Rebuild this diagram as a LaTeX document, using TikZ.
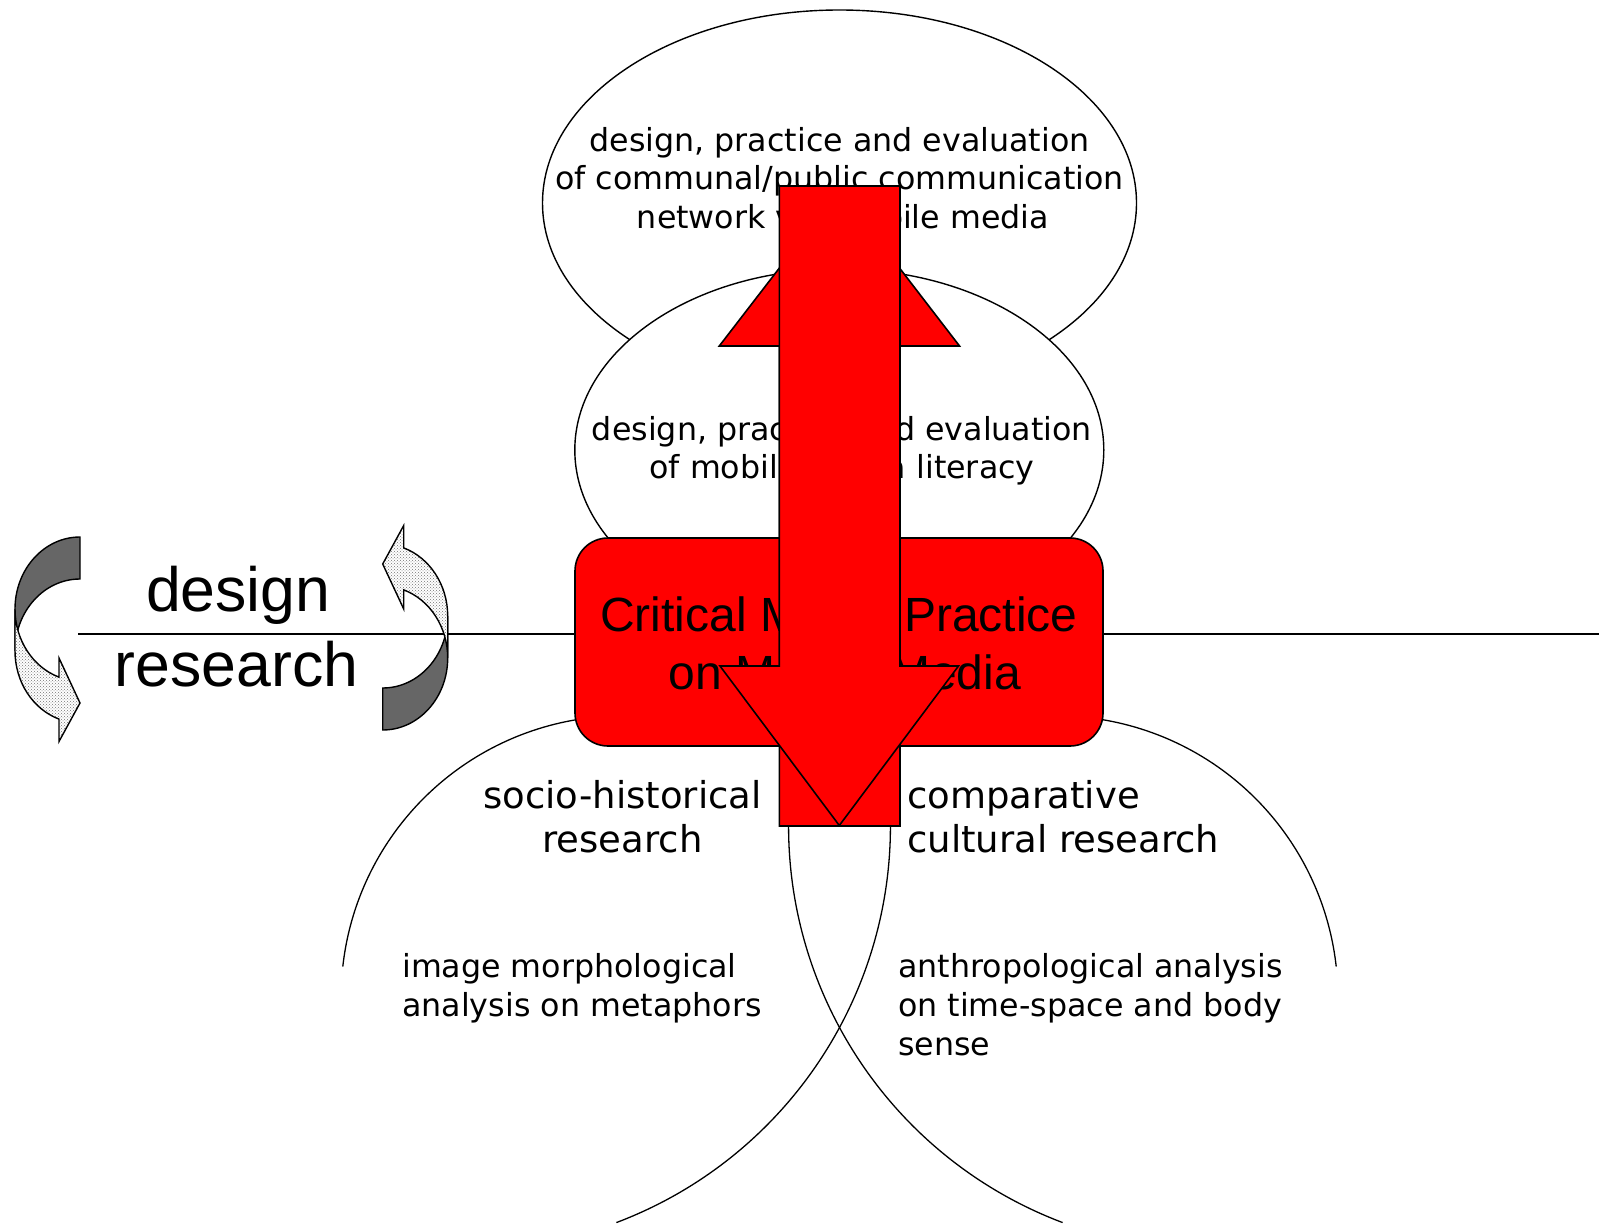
\documentclass[tikz,border=0pt]{standalone}
\usepackage{fontspec}
\setmainfont{DejaVu Sans}
\newfontfamily\arialfont{Liberation Sans}
\usetikzlibrary{patterns}
\begin{document}
\begin{tikzpicture}[x=1pt,y=-1pt,
  outl/.style={draw=black, line width=1.4pt},
  arcline/.style={draw=black, line width=1.3pt},
  smalltxt/.style={font=\fontsize{31.7}{38}\selectfont, inner sep=0pt},
  midtxt/.style={font=\fontsize{37}{44}\selectfont, inner sep=0pt},
  boxtxt/.style={font=\arialfont\fontsize{48}{57}\selectfont, inner sep=0pt, anchor=base},
  bigtxt/.style={font=\arialfont\fontsize{62.6}{75}\selectfont, inner sep=0pt, anchor=base},
  redshape/.style={fill=red, draw=black, line width=1.6pt, line join=miter},
  backpiece/.style={fill=black!60, draw=black, line width=1.4pt},
  frontpiece/.style={preaction={fill=white}, pattern=crosshatch dots, pattern color=black!55, draw=black, line width=1.4pt},
  ribbonarrow/.pic={
    \path[backpiece] (65,42) arc[start angle=270, end angle=180, x radius=65, y radius=72]
      -- (0,72) arc[start angle=180, end angle=270, x radius=65, y radius=72] -- cycle;
    \path[frontpiece] (0,72) arc[start angle=180, end angle=108.85, x radius=65, y radius=72]
      -- (44,121) -- (65,166) -- (44,204.5) -- (44,182.1)
      arc[start angle=108.85, end angle=180, x radius=65, y radius=72] -- cycle;
  }
]
\useasboundingbox (0,0) rectangle (1601,1225);

% horizontal axis
\coordinate (axisL) at (78.3,634);
\coordinate (axisR) at (1599,634);
\draw[line width=1.5pt] (axisL) -- (axisR);

% ellipses
\draw[outl, fill=white] (839.5,203) ellipse [x radius=297, y radius=193];
\draw[outl, fill=white] (839.3,450) ellipse [x radius=264.5, y radius=181];

% ellipse texts
\node[smalltxt, anchor=base] (topA) at (839.5,151.7) {design, practice and evaluation};
\node[smalltxt, anchor=base] (topB) at (839.5,190) {of communal/public communication};
\node[smalltxt, anchor=base] (topC) at (843,228.3) {network via mobile media};
\node[smalltxt, anchor=base] (midA) at (842,440.7) {design, practice and evaluation};
\node[smalltxt, anchor=base] (midB) at (842,478.3) {of mobile media literacy};

% lower arcs (left) and mirrored (right)
\coordinate (s1start) at (342.8,966.5);
\coordinate (s2start) at (888.8,789.2);
\draw[arcline] (s1start) arc[start angle=186.34, end angle=285, radius=281.8];
\draw[arcline] (s2start) arc[start angle=-5, end angle=69.3, radius=423.8];
\begin{scope}[shift={(1679,0)}, xscale=-1]
  \coordinate (s4start) at (342.8,966.5);
  \coordinate (s3start) at (888.8,789.2);
  \draw[arcline] (s4start) arc[start angle=186.34, end angle=285, radius=281.8];
  \draw[arcline] (s3start) arc[start angle=-5, end angle=69.3, radius=423.8];
\end{scope}

% central box
\draw[redshape, rounded corners=33pt] (575,538) rectangle (1103,746);
\node[boxtxt] (boxA) at (838.8,631.7) {Critical Media Practice};
\node[boxtxt] (boxB) at (845,689) {on Mobile Media};

% lower texts
\node[midtxt, anchor=base] (socA) at (622.5,808.3) {socio-historical};
\node[midtxt, anchor=base] (socB) at (622.5,852.3) {research};
\node[midtxt, anchor=base west] (compA) at (907,808.3) {comparative};
\node[midtxt, anchor=base west] (compB) at (907,852.3) {cultural research};
\node[smalltxt, anchor=base west] (imgA) at (402,977.4) {image morphological};
\node[smalltxt, anchor=base west] (imgB) at (402,1016.2) {analysis on metaphors};
\node[smalltxt, anchor=base west] (antA) at (898,977.4) {anthropological analysis};
\node[smalltxt, anchor=base west] (antB) at (898,1016.2) {on time-space and body};
\node[smalltxt, anchor=base west] (antC) at (898,1055) {sense};

% up arrow
\path[redshape] (779.3,826) -- (779.3,346) -- (719.3,346) -- (839.5,190) -- (959.5,346)
  -- (900,346) -- (900,826) -- cycle;
% down arrow
\path[redshape] (779.3,186) -- (900,186) -- (900,666) -- (958.5,666) -- (839.3,825.5)
  -- (720,666) -- (779.3,666) -- cycle;

% design / research
\path (15,537) pic {ribbonarrow};
\path (447.7,730) pic[rotate=180] {ribbonarrow};
\node[bigtxt] (design) at (238.3,611.7) {design};
\node[bigtxt] (research) at (236.7,686.7) {research};
\end{tikzpicture}
\end{document}
